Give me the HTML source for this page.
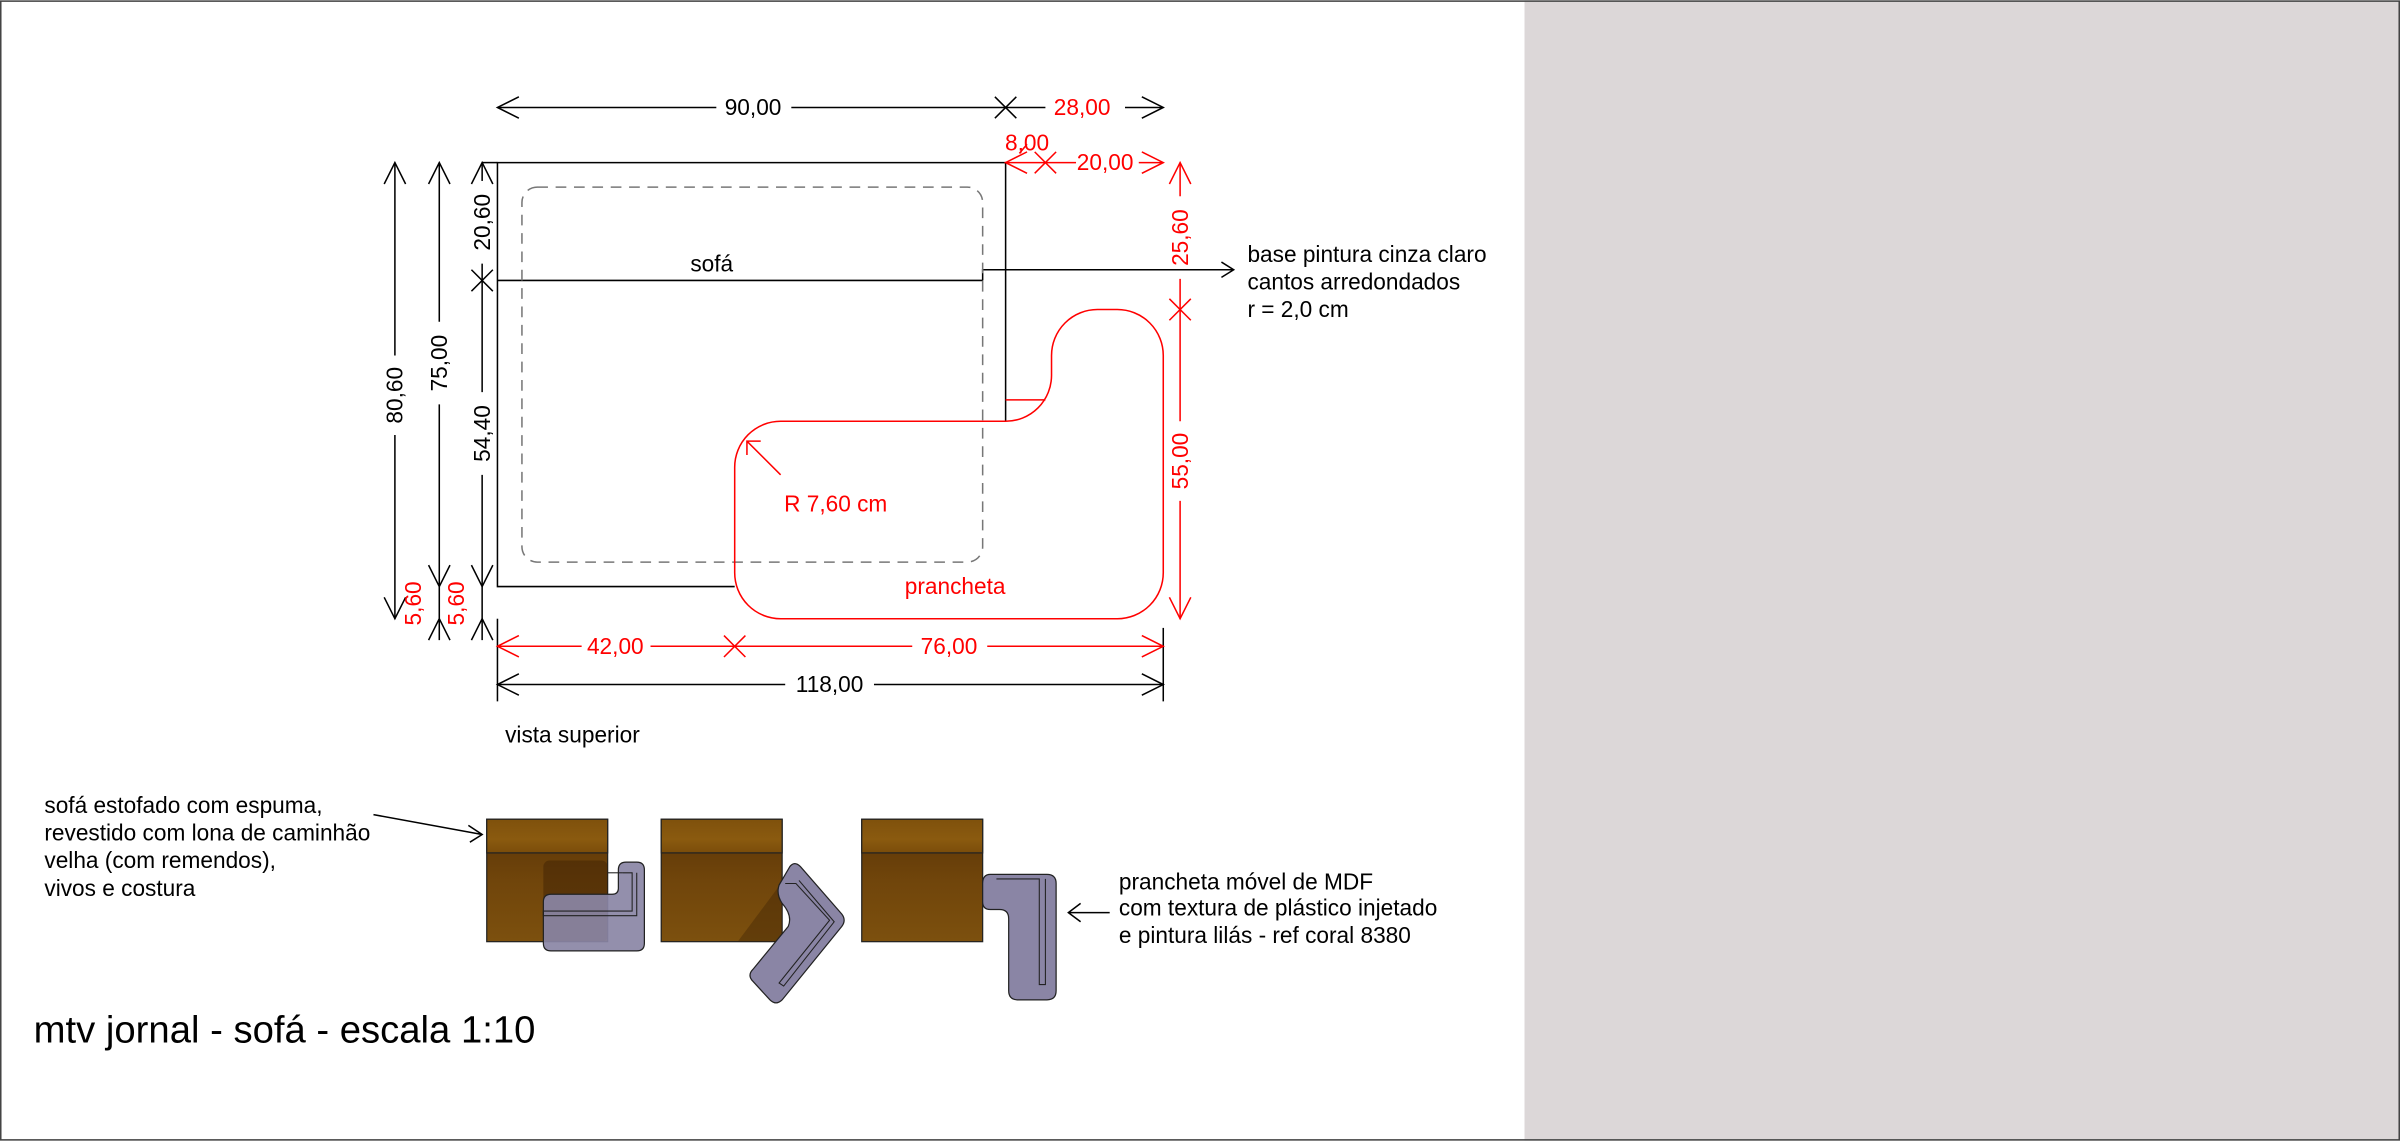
<!DOCTYPE html>
<html><head><meta charset="utf-8"><style>
html,body{margin:0;padding:0;background:#fff}
svg{display:block}
text{font-family:"Liberation Sans",sans-serif}
</style></head><body>
<svg width="2400" height="1141" viewBox="0 0 1568 745" xmlns="http://www.w3.org/2000/svg">
<defs>
<linearGradient id="sb" x1="0" y1="0" x2="0" y2="1"><stop offset="0" stop-color="#5a3406"/><stop offset="0.5" stop-color="#70450b"/><stop offset="1" stop-color="#7c500e"/></linearGradient>
<linearGradient id="st" x1="0" y1="0" x2="0" y2="1"><stop offset="0" stop-color="#7f510c"/><stop offset="0.6" stop-color="#8a5a0f"/><stop offset="1" stop-color="#7b4d0a"/></linearGradient>
</defs>
<rect x="0" y="0" width="1568" height="745" fill="#fff"/>
<rect x="996" y="0" width="572" height="745" fill="#dcd7d8"/>
<rect x="0.5" y="0.5" width="1567" height="744" fill="none" stroke="#444" stroke-width="1"/>

<g fill="none" stroke="#000" stroke-width="1">
<path d="M657 275 L657 106 L325 106 L325 383 L480 383"/>
<line x1="325" y1="183" x2="642" y2="183"/>
<path d="M642 183 L642 176 L806 176"/>
<path d="M798 171 L806 176 L798 181"/>
</g>
<rect x="341" y="122" width="301" height="245" rx="10" fill="none" stroke="#777" stroke-width="1" stroke-dasharray="7,5"/>
<g fill="none" stroke="#f00" stroke-width="1">
<path d="M510 275 L657 275 A30 30 0 0 0 687 245 L687 232 A30 30 0 0 1 717 202 L730 202 A30 30 0 0 1 760 232 L760 374 A30 30 0 0 1 730 404 L510 404 A30 30 0 0 1 480 374 L480 305 A30 30 0 0 1 510 275 Z"/>
<line x1="657" y1="261" x2="683" y2="261"/>
<path d="M510 310 L488 288 M488 297 L488 288 L497 288"/>
</g>

<g fill="none" stroke="#000" stroke-width="1">
<line x1="325" y1="70" x2="468" y2="70"/><line x1="517" y1="70" x2="683" y2="70"/><line x1="735" y1="70" x2="760" y2="70"/>
<path d="M339 63 L325 70 L339 77 M746 63 L760 70 L746 77 M650 63 L664 77 M664 63 L650 77"/>
<line x1="258" y1="106" x2="258" y2="232"/><line x1="258" y1="284" x2="258" y2="404"/>
<path d="M251 120 L258 106 L265 120 M251 390 L258 404 L265 390"/>
<line x1="287" y1="106" x2="287" y2="210"/><line x1="287" y1="264" x2="287" y2="418"/>
<path d="M280 120 L287 106 L294 120 M280 369 L287 383 L294 369 M280 418 L287 404 L294 418"/>
<line x1="315" y1="106" x2="315" y2="118"/><line x1="315" y1="172" x2="315" y2="256"/><line x1="315" y1="310" x2="315" y2="418"/>
<path d="M308 120 L315 106 L322 120 M308 369 L315 383 L322 369 M308 418 L315 404 L322 418 M308 176 L322 190 M322 176 L308 190"/>
<line x1="315" y1="106" x2="325" y2="106"/>
<line x1="325" y1="404" x2="325" y2="458"/><line x1="760" y1="410" x2="760" y2="458"/>
<line x1="325" y1="447" x2="513" y2="447"/><line x1="571" y1="447" x2="760" y2="447"/>
<path d="M339 440 L325 447 L339 454 M746 440 L760 447 L746 454"/>
</g>
<g fill="none" stroke="#f00" stroke-width="1">
<line x1="657" y1="106" x2="703" y2="106"/><line x1="744" y1="106" x2="760" y2="106"/>
<path d="M671 99 L657 106 L671 113 M676 99 L690 113 M690 99 L676 113 M746 99 L760 106 L746 113"/>
<path d="M666 100 L671 94"/>
<line x1="771" y1="106" x2="771" y2="128"/><line x1="771" y1="182" x2="771" y2="275"/><line x1="771" y1="327" x2="771" y2="404"/>
<path d="M764 120 L771 106 L778 120 M764 195 L778 209 M778 195 L764 209 M764 390 L771 404 L778 390"/>
<line x1="325" y1="422" x2="380" y2="422"/><line x1="425" y1="422" x2="596" y2="422"/><line x1="645" y1="422" x2="760" y2="422"/>
<path d="M339 415 L325 422 L339 429 M473 415 L487 429 M487 415 L473 429 M746 415 L760 422 L746 429"/>
</g>

<g font-size="14.8" fill="#000">
<text x="492" y="75" text-anchor="middle">90,00</text>
<text x="542" y="452" text-anchor="middle">118,00</text>
<text x="465" y="177" text-anchor="middle">sofá</text>
<text transform="translate(263,258) rotate(-90)" text-anchor="middle">80,60</text>
<text transform="translate(292,237) rotate(-90)" text-anchor="middle">75,00</text>
<text transform="translate(320,145) rotate(-90)" text-anchor="middle">20,60</text>
<text transform="translate(320,283) rotate(-90)" text-anchor="middle">54,40</text>
<text x="815" y="171">base pintura cinza claro</text>
<text x="815" y="189">cantos arredondados</text>
<text x="815" y="207">r = 2,0 cm</text>
<text x="330" y="485">vista superior</text>
<text x="29" y="531">sofá estofado com espuma,</text>
<text x="29" y="549">revestido com lona de caminhão</text>
<text x="29" y="567">velha (com remendos),</text>
<text x="29" y="585">vivos e costura</text>
<text x="731" y="581">prancheta móvel de MDF</text>
<text x="731" y="598">com textura de plástico injetado</text>
<text x="731" y="616">e pintura lilás - ref coral 8380</text>
</g>
<g font-size="14.8" fill="#f00">
<text x="707" y="75" text-anchor="middle">28,00</text>
<text x="671" y="98" text-anchor="middle">8,00</text>
<text x="722" y="111" text-anchor="middle">20,00</text>
<text transform="translate(776,155) rotate(-90)" text-anchor="middle">25,60</text>
<text transform="translate(776,301) rotate(-90)" text-anchor="middle">55,00</text>
<text x="402" y="427" text-anchor="middle">42,00</text>
<text x="620" y="427" text-anchor="middle">76,00</text>
<text x="546" y="334" text-anchor="middle">R 7,60 cm</text>
<text x="624" y="388" text-anchor="middle">prancheta</text>
<text transform="translate(275,394) rotate(-90)" text-anchor="middle">5,60</text>
<text transform="translate(303,394) rotate(-90)" text-anchor="middle">5,60</text>
</g>
<text x="22" y="681" font-size="25" fill="#000">mtv jornal - sofá - escala 1:10</text>

<g fill="none" stroke="#000" stroke-width="1">
<path d="M244 532 L315 545 M306 539 L315 545 L307 550"/>
<path d="M725 596 L698 596 M706 590 L698 596 L706 602"/>
</g>

<g stroke="#222" stroke-width="0.8">
<rect x="318" y="535" width="79" height="80" fill="url(#sb)"/><rect x="318" y="535" width="79" height="22" fill="url(#st)"/>
<rect x="432" y="535" width="79" height="80" fill="url(#sb)"/><rect x="432" y="535" width="79" height="22" fill="url(#st)"/>
<rect x="563" y="535" width="79" height="80" fill="url(#sb)"/><rect x="563" y="535" width="79" height="22" fill="url(#st)"/>
</g>
<rect x="355" y="562" width="42" height="53" rx="4" fill="#3f2204" opacity="0.5"/>
<path d="M511 576 L511 615 L482 615 Z" fill="#3f2204" opacity="0.4"/>
<g fill="#8a85a5" stroke="#222" stroke-width="0.8">
<path d="M409 563 L416 563 Q421 563 421 568 L421 616 Q421 621 416 621 L360 621 Q355 621 355 616 L355 589 Q355 584 360 584 L400 584 Q404 584 404 580 L404 568 Q404 563 409 563 Z" fill-opacity="0.92"/>
<path d="M516 566 Q519 562 523 566 L550 597 Q553 601 550 605 L511 653 Q507 657 503 653 L492 641 Q488 637 492 633 L515 605 Q518 598 511 590 Q507 584 509 578 Z"/>
<path d="M647 571 L684 571 Q690 571 690 577 L690 647 Q690 653 684 653 L665 653 Q659 653 659 647 L659 600 Q659 594 653 594 L647 594 Q642 594 642 589 L642 577 Q642 571 647 571 Z"/>
</g>
<g fill="none" stroke="#222" stroke-width="0.7">
<path d="M407 570 L413 570 L413 595 L355 595 L355 598 L416 598 L416 570"/>
<path d="M397 570 L407 570"/>
<path d="M513 577 L520 577 L542 601 L509 642 L512 644 L545 602 L522 575"/>
<path d="M651 574 L679 574 L679 643 L683 643 L683 574"/>
</g>
</svg>
</body></html>
